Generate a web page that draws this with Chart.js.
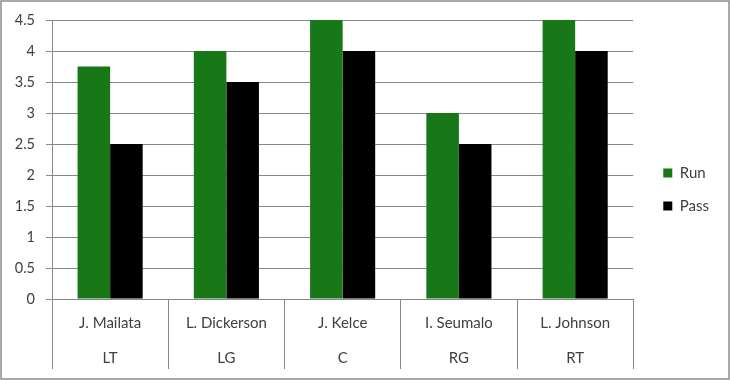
<!DOCTYPE html>
<html>
<head>
<meta charset="utf-8">
<script src="https://cdn.jsdelivr.net/npm/chart.js@4"></script>
<style>
  body { margin: 0; background: #fff; }
  #wrap { width: 730px; height: 380px; }
</style>
</head>
<body>
<div id="wrap"><canvas id="chart" width="730" height="380"></canvas></div>
<script>
var players = ["J. Mailata", "L. Dickerson", "J. Kelce", "I. Seumalo", "L. Johnson"];
var positions = ["LT", "LG", "C", "RG", "RT"];
var run = [3.75, 4, 4.5, 3, 4.5];
var pass = [2.5, 3.5, 4, 2.5, 4];

var gridColor = "#888888";
var textColor = "#404040";
var fontFamily = "Lato, 'Open Sans', sans-serif";

// two-level labels: name on top, position below
var labels = [];
for (var i in players) {
  labels.push([players[i], positions[i]]);
}

var borderPlugin = {
  id: "outerBorder",
  afterLayout: function (chart) {
    // let the second label row draw below the (short) x axis box
    chart.scales.x.bottom = chart.height;
  },
  afterDraw: function (chart) {
    var ctx = chart.ctx;
    ctx.save();
    ctx.strokeStyle = "#8c8c8c";
    ctx.lineWidth = 1.5;
    ctx.strokeRect(1, 1, chart.width - 2, chart.height - 2);
    ctx.restore();
  }
};

var ctx = document.getElementById("chart");

var barGraph = new Chart(ctx, {
  type: "bar",
  data: {
    labels: labels,
    datasets: [
      {
        label: "Run",
        backgroundColor: "#187818",
        data: run,
        categoryPercentage: 0.56,
        barPercentage: 1
      },
      {
        label: "Pass",
        backgroundColor: "#000000",
        data: pass,
        categoryPercentage: 0.56,
        barPercentage: 1
      }
    ]
  },
  options: {
    responsive: false,
    animation: false,
    layout: { padding: { top: 20, left: 2, right: 11, bottom: 21 } },
    plugins: {
      title: { display: false },
      tooltip: { enabled: false },
      legend: {
        position: "right",
        labels: {
          boxWidth: 9,
          boxHeight: 9,
          padding: 18,
          color: textColor,
          font: { family: fontFamily, size: 15 }
        }
      }
    },
    scales: {
      x: {
        offset: true,
        grid: {
          offset: true,
          drawOnChartArea: false,
          tickLength: 70,
          color: gridColor
        },
        border: { color: gridColor },
        ticks: {
          maxRotation: 0,
          autoSkip: false,
          padding: -63.5,
          color: textColor,
          font: { family: fontFamily, size: 15, lineHeight: 35 / 15 }
        },
        afterFit: function (scale) { scale.height = 60; }
      },
      y: {
        min: 0,
        max: 4.5,
        ticks: {
          stepSize: 0.5,
          padding: 11,
          color: textColor,
          font: { family: fontFamily, size: 14.5 },
          callback: function (value) { return value; }
        },
        grid: { color: gridColor, tickLength: 6 },
        border: { color: gridColor },
        afterFit: function (scale) { scale.width = 50; }
      },
      y2: {
        position: "right",
        min: 0,
        max: 4.5,
        grid: { display: false },
        border: { display: false },
        ticks: { display: false },
        afterFit: function (scale) { scale.width = 12; }
      }
    }
  },
  plugins: [borderPlugin]
});
</script>
</body>
</html>
